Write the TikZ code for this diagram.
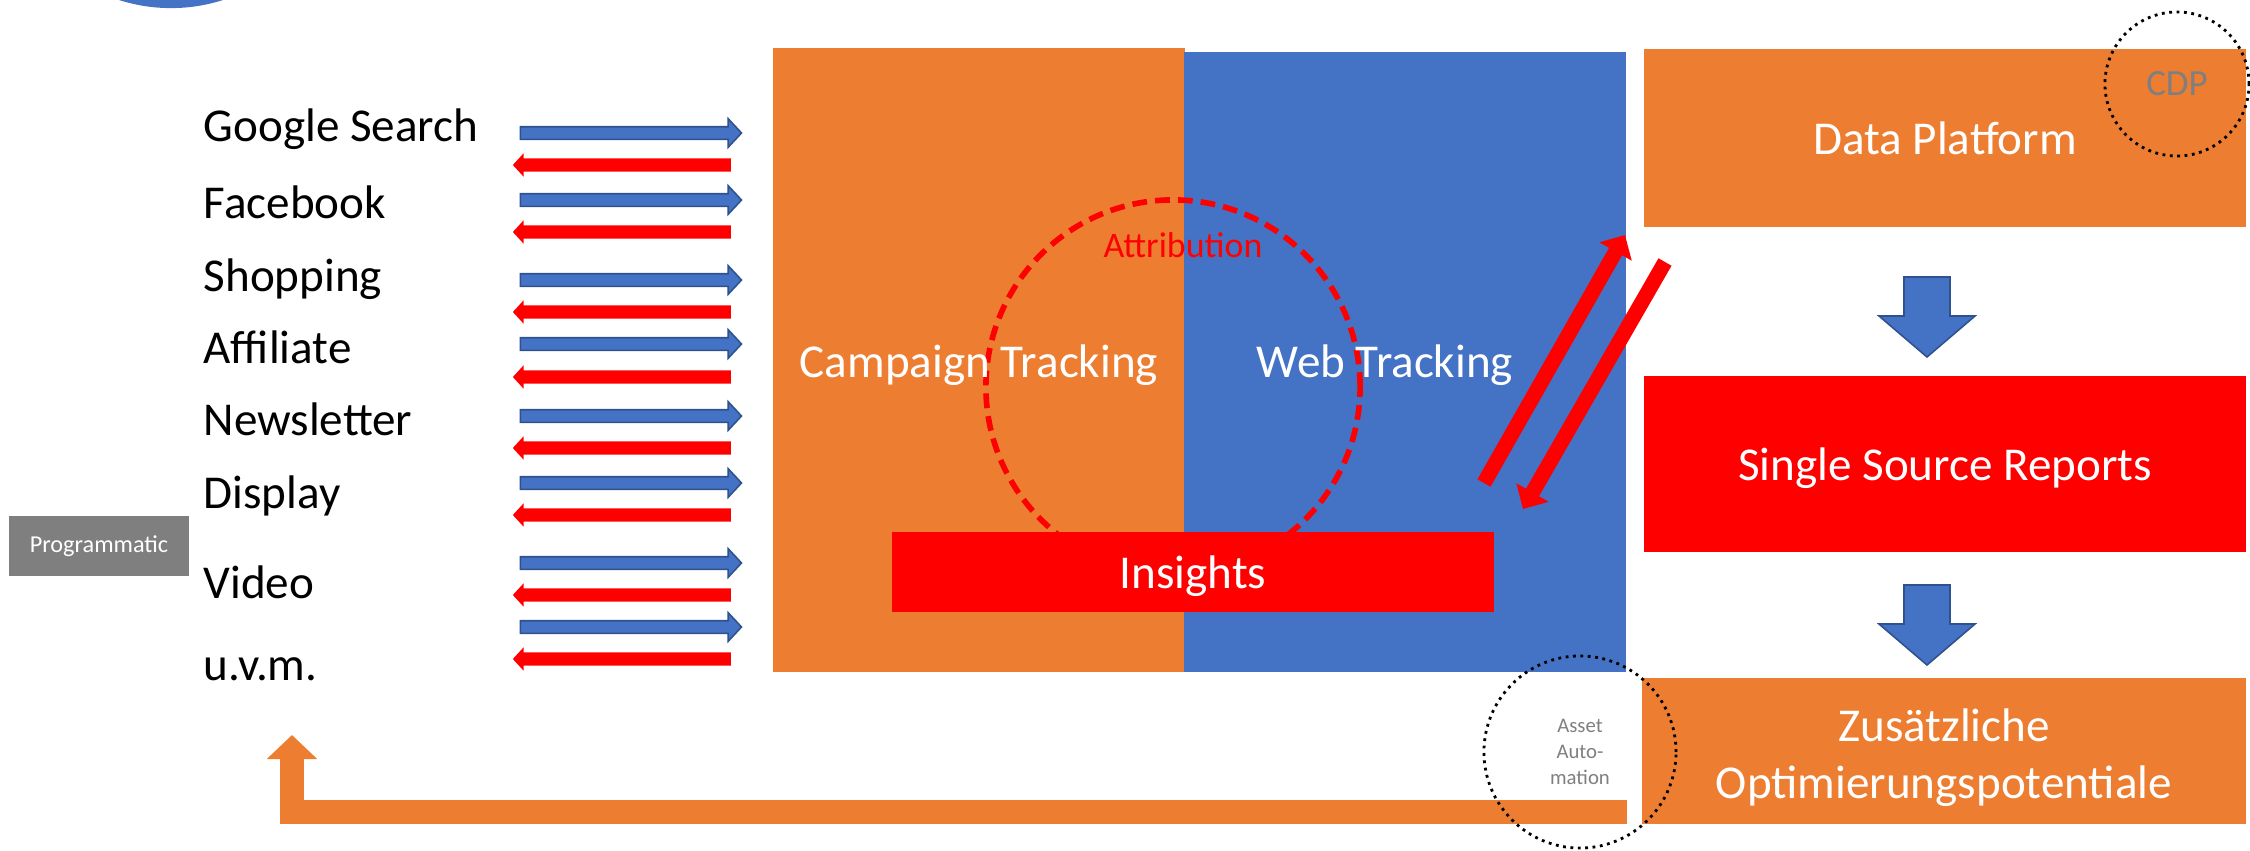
\documentclass[tikz,border=0pt]{standalone}
\usepackage{fontspec}
\setmainfont{Carlito}
\usetikzlibrary{shapes.arrows,arrows.meta}
\definecolor{torange}{HTML}{ED7D31}
\definecolor{tblue}{HTML}{4472C4}
\definecolor{tred}{HTML}{FF0000}
\definecolor{tgrey}{HTML}{7F7F7F}
\definecolor{arrowline}{HTML}{2F528F}
\tikzset{
  bigfont/.style={font=\fontsize{13.4}{16.2}\selectfont},
  channel/.style={bigfont, anchor=base west, inner sep=0pt},
  panel/.style={fill=#1, inner sep=0pt, outer sep=0pt, text=white, bigfont, align=center},
  outarrow/.style={single arrow, draw=arrowline, fill=tblue, line width=0.45pt, inner sep=0.055cm,
    minimum height=2.21cm, minimum width=0.28cm, single arrow head extend=0.08cm, single arrow tip angle=94},
  inarrow/.style={single arrow, shape border rotate=180, fill=tred, inner sep=0.06cm,
    minimum height=2.18cm, minimum width=0.22cm, single arrow head extend=0.05cm, single arrow tip angle=95},
  flowarrow/.style={draw=arrowline, fill=tblue, line width=0.45pt, line join=miter},
  syncarrow/.style={draw=tred, line width=0.15cm, -{Triangle[length=0.19cm,width=0.36cm]}},
  feedback/.style={draw=torange, line width=0.24cm, line join=miter, -{Triangle[length=0.24cm,width=0.49cm]}},
  attrring/.style={circle, draw=tred, line width=1.6pt, dash pattern=on 4.2pt off 2.3pt, inner sep=0pt},
  dotring/.style={circle, draw=black, line width=0.8pt, dash pattern=on 0.8pt off 1.3pt, inner sep=0pt, text=tgrey}
}
\begin{document}
\begin{tikzpicture}[x=0.01cm,y=-0.01cm]
\useasboundingbox (0,0) rectangle (2250,851);
%logo
\node[circle, fill=tblue, minimum size=3.4cm, inner sep=0pt] (logo) at (171,-162) {};
%channels
\node[channel] (google) at (203,141) {Google Search};
\node[channel] (facebook) at (203,218) {Facebook};
\node[channel] (shopping) at (203,291) {Shopping};
\node[channel] (affiliate) at (203,363) {Affiliate};
\node[channel] (newsletter) at (203,435) {Newsletter};
\node[channel] (display) at (203,508) {Display};
\node[channel] (video) at (203,598) {Video};
\node[channel] (uvm) at (203,680) {u.v.m.};
\node[fill=tgrey, text=white, minimum width=1.8cm, minimum height=0.6cm, inner sep=0pt,
  font=\fontsize{6.9}{8}\selectfont] (programmatic) at (99,546) {Programmatic};
%channel arrows
\node[outarrow] (google-out) at (628,133) {};
\node[inarrow] (google-in) at (625,165) {};
\node[outarrow] (facebook-out) at (628,200) {};
\node[inarrow] (facebook-in) at (625,232) {};
\node[outarrow] (shopping-out) at (628,280) {};
\node[inarrow] (shopping-in) at (625,312) {};
\node[outarrow] (affiliate-out) at (628,344) {};
\node[inarrow] (affiliate-in) at (625,377) {};
\node[outarrow] (newsletter-out) at (628,416) {};
\node[inarrow] (newsletter-in) at (625,448) {};
\node[outarrow] (display-out) at (628,483) {};
\node[inarrow] (display-in) at (625,515) {};
\node[outarrow] (video-out) at (628,563) {};
\node[inarrow] (video-in) at (625,595) {};
\node[outarrow] (uvm-out) at (628,627) {};
\node[inarrow] (uvm-in) at (625,659) {};
%tracking
\node[panel=torange, minimum width=4.12cm, minimum height=6.23cm] (campaign) at (979,360) {};
\node[panel=tblue, minimum width=4.41cm, minimum height=6.2cm] (web) at (1405,362) {};
\node[attrring, minimum size=3.74cm] (attribution) at (1173,387) {};
\node[text=tred, anchor=base, inner sep=0pt, font=\fontsize{10.2}{12}\selectfont] (attribution-label) at (1183,257) {Attribution};
\node[bigfont, text=white, anchor=base, inner sep=0pt] (campaign-label) at (979,377) {Campaign Tracking};
\node[bigfont, text=white, anchor=base, inner sep=0pt] (web-label) at (1385,377) {Web Tracking};
\node[panel=tred, text depth=0pt, minimum width=6.01cm, minimum height=0.8cm] (insights) at (1193,572) {Insights};
%right column
\node[panel=torange, minimum width=6.02cm, minimum height=1.78cm] (platform) at (1945,138) {Data Platform};
\node[panel=tred, text depth=0pt, minimum width=6.01cm, minimum height=1.76cm] (reports) at (1945,464) {Single Source Reports};
\node[panel=torange, minimum width=6.03cm, minimum height=1.45cm] (potentials) at (1944,751) {};
\node[bigfont, text=white, align=center, inner sep=0pt] (potentials-label) at (1944,758) {Zusätzliche\\Optimierungspotentiale};
%platform -> reports -> potentials
\draw[flowarrow] (1904,277) -- (1950,277) -- (1950,316) -- (1975,316) -- (1927,357) -- (1879,316) -- (1904,316) -- cycle;
\draw[flowarrow] (1904,585) -- (1950,585) -- (1950,624) -- (1975,624) -- (1927,665) -- (1879,624) -- (1904,624) -- cycle;
%sync web <-> platform
\coordinate (web-up-tail) at (1484,483);
\coordinate (web-up-tip) at (1625,235);
\coordinate (platform-down-tail) at (1665,262);
\coordinate (platform-down-tip) at (1523,509);
\draw[syncarrow] (web-up-tail) -- (web-up-tip);
\draw[syncarrow] (platform-down-tail) -- (platform-down-tip);
%feedback loop
\coordinate (loop-start) at (1627,812);
\coordinate (loop-corner) at (292,812);
\coordinate (loop-tip) at (292,735);
\draw[feedback] (loop-start) -- (loop-corner) -- (loop-tip);
%rings
\node[dotring, minimum size=1.44cm, font=\fontsize{10.5}{12}\selectfont] (cdp) at (2177,84) {CDP};
\node[dotring, minimum size=1.92cm, align=center, font=\fontsize{5.9}{7.4}\selectfont] (asset) at (1580,752) {Asset\\Auto-\\mation};
\end{tikzpicture}
\end{document}
